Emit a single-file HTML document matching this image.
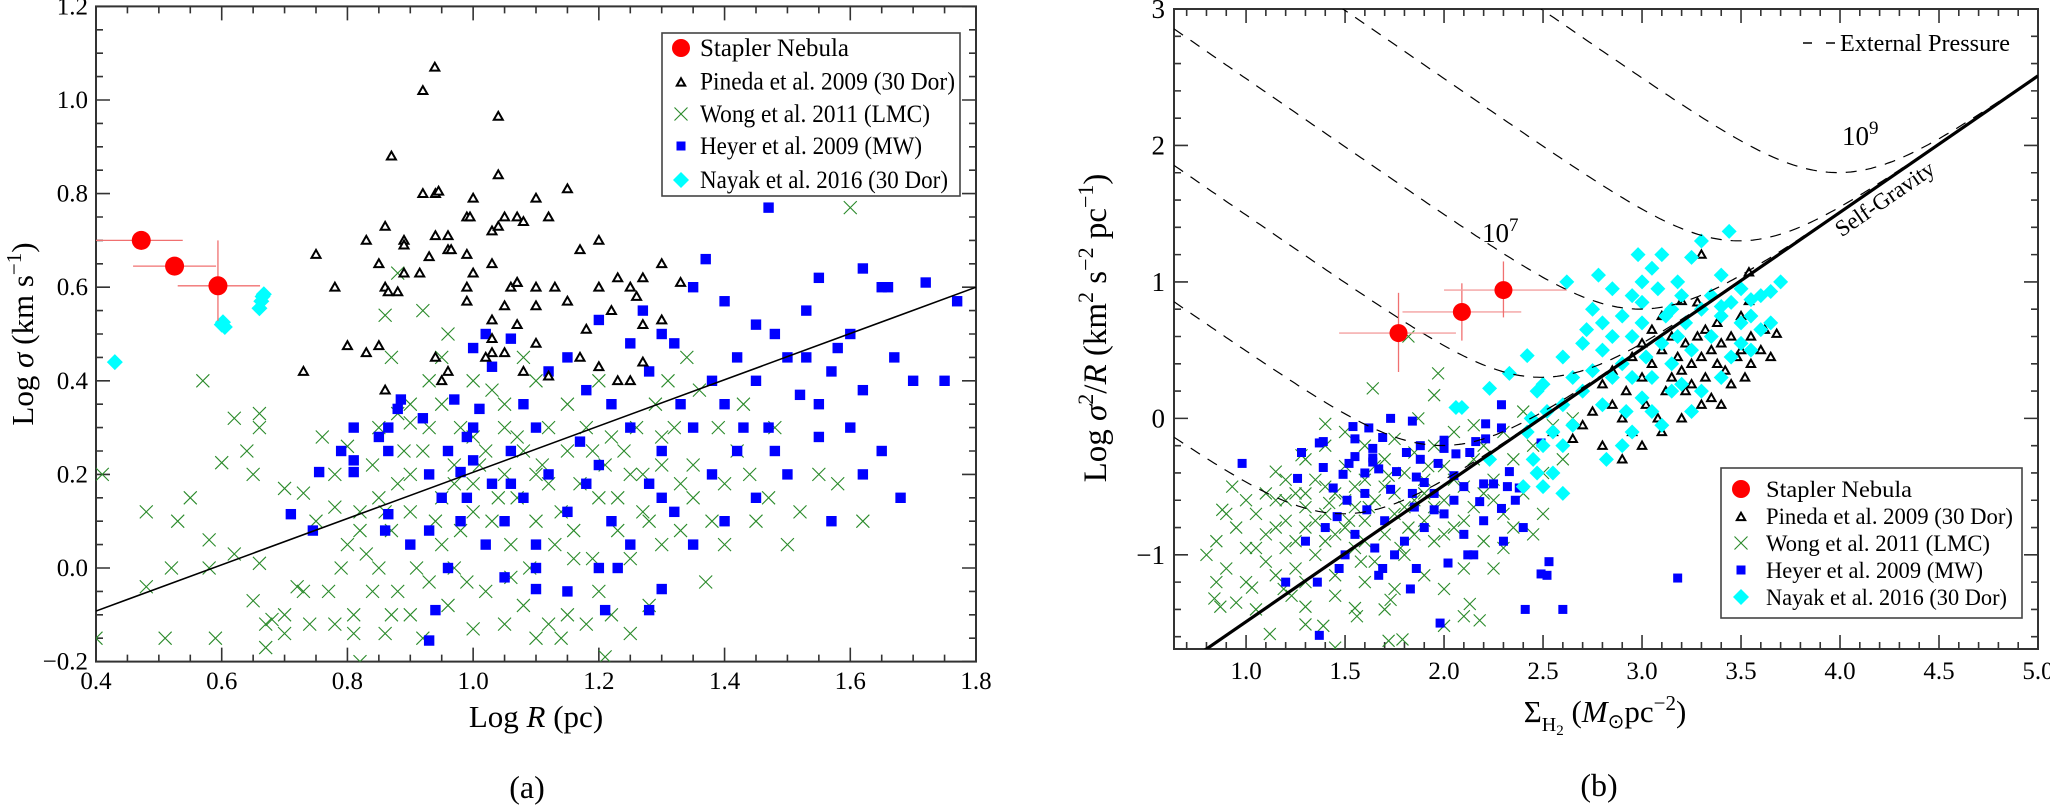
<!DOCTYPE html>
<html><head><meta charset="utf-8"><title>Stapler Nebula scaling relations</title>
<style>
html,body{margin:0;padding:0;background:#fff;}
svg{display:block;font-family:"Liberation Serif",serif;}
svg text{font-family:"Liberation Serif",serif;}
</style></head>
<body>
<svg id="fig" width="2050" height="806" viewBox="0 0 2050 806" xmlns="http://www.w3.org/2000/svg" font-family="Liberation Serif, serif">
<defs>
<clipPath id="clipL"><rect x="96" y="6.4" width="880" height="655.2"/></clipPath>
<clipPath id="clipR"><rect x="1174" y="9" width="864" height="640"/></clipPath>
</defs>
<g id="panelA"></g>
<g id="panelB"></g>
</svg>
<script>
// ---------- Panel (a) data: Log R (pc) vs Log sigma ----------
const staplerLeft=[[0.472,0.70],[0.525,0.645],[0.594,0.603]];
const staplerLeftXerr=[[0.40,0.538],[0.459,0.591],[0.53,0.661]];
const staplerLeftYerr=[[0.68,0.72],[0.635,0.655],[0.528,0.70]];
const nayakLeft=[[0.43,0.44],[0.6,0.52],[0.605,0.515],[0.602,0.525],[0.66,0.555],[0.663,0.57],[0.665,0.58],[0.667,0.585]];
const pinedaLeft=[[0.939,1.07],[0.92,1.02],[1.04,0.965],[0.87,0.88],[1.04,0.84],[0.92,0.80],[0.94,0.80],[0.945,0.805],[1.0,0.79],[0.99,0.75],[0.995,0.75],[1.07,0.75],[1.03,0.72],[1.04,0.73],[0.86,0.73],[0.83,0.70],[0.89,0.70],[0.89,0.69],[0.96,0.71],[0.94,0.71],[0.75,0.67],[0.85,0.65],[0.93,0.665],[0.96,0.68],[0.965,0.68],[0.99,0.67],[1.03,0.65],[0.89,0.63],[0.915,0.63],[1.0,0.63],[0.78,0.60],[0.86,0.60],[0.865,0.59],[0.88,0.59],[0.99,0.60],[1.06,0.60],[1.07,0.61],[0.99,0.57],[1.03,0.53],[1.03,0.49],[1.03,0.46],[1.02,0.45],[0.8,0.475],[0.83,0.46],[0.85,0.475],[0.94,0.45],[0.73,0.42],[0.96,0.42],[0.95,0.40],[0.86,0.38],[1.1,0.79],[1.15,0.81],[1.08,0.74],[1.12,0.75],[1.05,0.75],[1.17,0.68],[1.2,0.7],[1.07,0.61],[1.1,0.6],[1.13,0.6],[1.1,0.56],[1.15,0.57],[1.07,0.52],[1.18,0.51],[1.25,0.6],[1.27,0.62],[1.3,0.65],[1.33,0.61],[1.26,0.58],[1.22,0.55],[1.27,0.52],[1.3,0.53],[1.1,0.48],[1.05,0.46],[1.17,0.45],[1.2,0.43],[1.27,0.44],[1.25,0.4],[1.23,0.4],[1.08,0.42],[1.12,0.41],[1.05,0.56],[1.23,0.62],[1.2,0.6]];
const heyerLeft=[[0.755,0.205],[0.79,0.25],[0.81,0.30],[0.81,0.23],[0.81,0.205],[0.85,0.28],[0.865,0.30],[0.865,0.25],[0.88,0.34],[0.885,0.36],[0.92,0.32],[0.97,0.36],[1.0,0.47],[1.0,0.30],[0.99,0.28],[0.96,0.25],[1.0,0.23],[0.98,0.205],[0.99,0.15],[1.02,0.50],[1.03,0.43],[1.06,0.49],[1.01,0.34],[1.06,0.25],[1.03,0.18],[1.06,0.18],[0.71,0.115],[0.745,0.08],[0.865,0.115],[0.86,0.08],[0.93,0.08],[0.96,0.0],[1.1,0.0],[1.2,0.0],[1.23,0.0],[1.1,-0.045],[1.3,-0.045],[0.94,-0.09],[1.21,-0.09],[1.28,-0.09],[0.93,-0.155],[1.05,0.1],[1.08,0.15],[1.1,0.05],[1.12,0.2],[1.15,0.12],[1.17,0.27],[1.2,0.22],[1.22,0.1],[1.25,0.3],[1.28,0.18],[1.3,0.25],[1.32,0.12],[1.35,0.3],[1.38,0.2],[1.4,0.35],[1.42,0.25],[1.45,0.4],[1.47,0.3],[1.5,0.45],[1.52,0.37],[1.55,0.28],[1.57,0.42],[1.6,0.5],[1.62,0.38],[1.65,0.6],[1.66,0.6],[1.67,0.45],[1.7,0.4],[1.72,0.61],[1.75,0.4],[1.77,0.57],[1.47,0.77],[1.37,0.66],[1.4,0.57],[1.45,0.52],[1.35,0.6],[1.3,0.5],[1.27,0.55],[1.32,0.48],[1.25,0.48],[1.22,0.35],[1.18,0.38],[1.12,0.42],[1.08,0.35],[1.15,0.45],[1.2,0.53],[1.42,0.45],[1.48,0.5],[1.53,0.55],[1.58,0.47],[1.62,0.64],[1.55,0.62],[1.5,0.2],[1.45,0.15],[1.55,0.35],[1.6,0.3],[1.65,0.25],[1.68,0.15],[1.62,0.2],[1.4,0.1],[1.35,0.05],[1.25,0.05],[1.15,-0.05],[1.05,-0.02],[1.3,0.15],[1.57,0.1],[1.48,0.25],[1.38,0.4],[1.33,0.35],[1.1,0.3],[1.18,0.18],[0.95,0.15],[0.98,0.1],[1.02,0.05],[0.9,0.05],[0.93,0.2],[1.28,0.42],[1.43,0.3],[1.53,0.45]];
const wongLeft=[[0.41,0.2],[0.48,0.12],[0.53,0.1],[0.57,0.4],[0.62,0.32],[0.55,0.15],[0.58,0.06],[0.6,0.225],[0.64,0.25],[0.65,0.2],[0.66,0.33],[0.66,0.3],[0.7,0.17],[0.73,0.16],[0.62,0.03],[0.66,0.01],[0.48,-0.04],[0.52,0.0],[0.58,0.0],[0.4,-0.15],[0.51,-0.15],[0.59,-0.15],[0.65,-0.07],[0.67,-0.12],[0.68,-0.11],[0.7,-0.1],[0.67,-0.17],[0.7,-0.14],[0.74,-0.12],[0.72,-0.04],[0.73,-0.05],[0.77,-0.05],[0.78,-0.12],[0.81,-0.1],[0.81,-0.14],[0.82,-0.2],[0.75,0.1],[0.78,0.13],[0.8,0.05],[0.82,0.12],[0.76,0.28],[0.78,0.2],[0.8,0.26],[0.84,0.22],[0.85,0.15],[0.87,0.08],[0.88,0.18],[0.9,0.12],[0.92,0.25],[0.85,0.3],[0.88,0.33],[0.9,0.35],[0.87,0.45],[0.86,0.54],[0.88,0.63],[0.9,0.31],[0.93,0.4],[0.96,0.5],[0.95,0.35],[0.98,0.3],[1.0,0.4],[0.97,0.22],[1.0,0.18],[1.02,0.25],[1.05,0.3],[1.03,0.38],[1.05,0.2],[1.07,0.15],[1.08,0.25],[1.1,0.1],[1.12,0.18],[1.15,0.25],[1.18,0.3],[1.2,0.15],[1.22,0.28],[1.25,0.2],[1.28,0.1],[1.3,0.22],[1.32,0.3],[1.35,0.15],[1.37,-0.03],[1.4,0.05],[1.45,0.1],[1.5,0.05],[1.55,0.2],[1.6,0.77],[1.25,0.02],[1.2,-0.05],[1.15,-0.1],[1.1,-0.15],[1.05,-0.12],[1.0,-0.13],[0.96,-0.08],[0.93,-0.03],[0.9,-0.1],[0.88,-0.05],[0.86,-0.14],[0.92,-0.15],[0.97,0.0],[1.02,-0.05],[1.08,-0.08],[1.12,-0.12],[1.14,-0.15],[1.18,-0.12],[1.22,-0.1],[1.25,-0.14],[1.21,-0.19],[1.28,-0.08],[0.85,0.0],[0.83,0.03],[0.95,0.05],[0.98,0.08],[1.03,0.1],[1.06,0.05],[1.09,0.0],[1.13,0.05],[1.16,0.08],[1.19,0.02],[1.23,0.08],[1.27,0.12],[1.3,0.05],[1.33,0.08],[0.9,0.2],[0.95,0.15],[1.0,0.12],[1.04,0.15],[1.1,0.2],[1.14,0.12],[1.17,0.18],[1.21,0.22],[1.24,0.25],[1.26,0.3],[1.29,0.35],[1.31,0.4],[1.34,0.45],[1.36,0.38],[1.39,0.3],[1.42,0.25],[1.44,0.2],[1.47,0.15],[1.52,0.12],[1.58,0.18],[1.62,0.1],[1.3,0.28],[1.35,0.22],[1.4,0.18],[1.0,0.28],[1.05,0.35],[1.1,0.4],[1.15,0.35],[1.2,0.4],[0.95,0.45],[0.92,0.55],[1.08,0.45],[1.12,0.3],[1.16,0.02],[1.06,-0.02],[0.99,-0.03],[0.94,0.1],[0.91,0.0],[0.87,-0.1],[0.84,-0.05],[0.79,0.0],[0.82,0.08],[0.86,0.12],[0.89,0.25],[0.93,0.3],[0.97,0.18],[1.01,0.22],[1.07,0.28],[1.11,0.22],[1.19,0.25],[1.23,0.15],[1.27,0.2],[1.33,0.18],[1.38,0.1],[1.43,0.35],[1.48,0.3]];
const fitLeft=[[0.4,-0.092],[1.8,0.6]];
const xTicksLeft=["0.4","0.6","0.8","1.0","1.2","1.4","1.6","1.8"];
const yTicksLeft=["−0.2","0.0","0.2","0.4","0.6","0.8","1.0","1.2"];

// ---------- Panel (b) data: Sigma_H2 vs Log sigma^2/R ----------
const staplerRight=[[1.77,0.625],[2.09,0.78],[2.30,0.94]];
const staplerRightXerr=[[1.47,2.06],[1.79,2.39],[2.0,2.62]];
const staplerRightYerr=[[0.34,0.92],[0.57,0.99],[0.74,1.15]];
const pinedaRight=[[2.55,-0.1],[2.65,-0.15],[2.7,-0.05],[2.75,0.05],[2.8,-0.2],[2.85,0.1],[2.9,0.0],[2.92,0.2],[2.95,-0.1],[3.0,0.3],[3.02,0.1],[3.05,0.4],[3.08,0.0],[3.1,0.5],[3.12,0.2],[3.15,0.3],[3.18,0.45],[3.2,0.35],[3.22,0.55],[3.25,0.4],[3.28,0.6],[3.3,0.45],[3.32,0.3],[3.35,0.5],[3.38,0.4],[3.4,0.55],[3.42,0.35],[3.45,0.6],[3.48,0.45],[3.5,0.5],[3.52,0.3],[3.55,0.6],[3.6,0.5],[3.62,0.65],[3.65,0.45],[3.68,0.62],[3.3,0.1],[3.2,0.0],[3.1,-0.1],[3.0,-0.2],[2.9,-0.3],[3.28,0.85],[3.1,0.75],[3.22,0.2],[3.35,0.15],[3.4,0.1],[3.0,0.55],[2.95,0.45],[3.05,0.65],[3.15,0.6],[3.45,0.25],[3.55,0.4],[2.85,0.35],[2.8,0.25],[3.25,0.25],[3.38,0.7],[3.5,0.75],[3.32,0.65],[3.3,1.2],[3.54,1.07],[3.2,0.86],[3.54,0.86]];
const nayakRight=[[2.06,0.08],[2.09,0.08],[2.23,0.22],[2.33,0.33],[2.42,0.46],[2.47,0.2],[2.44,0.0],[2.42,-0.1],[2.23,-0.3],[2.47,-0.4],[2.6,0.45],[2.5,0.25],[2.52,0.05],[2.6,0.1],[2.55,-0.1],[2.45,-0.3],[2.5,-0.2],[2.65,-0.05],[2.7,0.2],[2.62,1.0],[2.75,0.8],[2.8,0.5],[2.85,0.6],[2.9,0.75],[2.95,0.9],[3.0,1.0],[3.05,1.1],[3.1,1.2],[3.15,0.8],[3.2,0.9],[3.3,1.3],[3.44,1.37],[3.25,1.18],[3.4,1.05],[3.5,0.95],[3.55,0.87],[3.65,0.93],[3.4,0.82],[3.6,0.9],[3.7,1.0],[2.7,0.55],[2.75,0.35],[2.8,0.1],[2.85,0.3],[2.9,0.4],[2.95,0.6],[3.0,0.7],[3.02,0.45],[3.05,0.3],[3.1,0.55],[3.12,0.75],[3.15,0.4],[3.18,0.6],[3.2,0.25],[3.22,0.7],[3.25,0.5],[3.3,0.8],[3.35,0.6],[3.4,0.75],[3.45,0.85],[3.5,0.7],[3.55,0.75],[3.6,0.65],[3.65,0.7],[3.55,0.5],[3.4,0.3],[3.3,0.2],[3.25,0.05],[3.1,-0.05],[3.0,0.15],[2.95,-0.1],[2.9,-0.2],[2.82,-0.3],[3.15,0.2],[3.05,0.05],[2.8,0.7],[2.72,0.65],[2.65,0.3],[2.6,-0.2],[2.55,-0.4],[2.4,-0.5],[2.5,-0.5],[2.6,-0.55],[2.95,0.3],[3.08,0.95],[2.92,0.05],[3.0,0.85],[3.35,0.9],[3.45,0.45],[3.5,0.55],[2.85,0.95],[3.18,1.0],[2.78,1.05],[2.98,1.2]];
const heyerRight=[[2.29,0.10],[2.21,-0.04],[1.84,-0.02],[1.73,0.0],[1.54,-0.06],[1.62,-0.07],[2.29,-0.07],[2.21,-0.15],[1.69,-0.14],[1.55,-0.15],[1.37,-0.18],[1.39,-0.17],[2.0,-0.16],[2.16,-0.17],[2.49,-0.18],[1.88,-0.2],[1.64,-0.22],[2.0,-0.22],[1.28,-0.25],[1.55,-0.28],[1.64,-0.29],[1.81,-0.25],[1.88,-0.3],[2.06,-0.26],[2.13,-0.25],[0.98,-0.33],[1.52,-0.33],[1.97,-0.33],[1.39,-0.36],[1.64,-0.32],[1.49,-0.41],[1.60,-0.4],[1.76,-0.39],[2.33,-0.39],[1.67,-0.37],[1.26,-0.44],[1.86,-0.43],[2.05,-0.42],[2.1,-0.5],[2.2,-0.48],[2.25,-0.48],[2.32,-0.5],[2.38,-0.51],[1.9,-0.47],[1.44,-0.51],[1.73,-0.52],[1.84,-0.55],[2.05,-0.6],[2.18,-0.61],[2.29,-0.66],[2.36,-0.6],[1.51,-0.6],[1.61,-0.67],[1.46,-0.72],[1.95,-0.67],[1.20,-1.2],[1.36,-1.2],[1.37,-1.59],[1.47,-1.1],[1.67,-1.15],[1.69,-1.1],[1.83,-1.25],[1.86,-1.1],[1.98,-1.5],[2.02,-1.06],[2.12,-1.0],[2.41,-1.4],[2.49,-1.14],[2.52,-1.15],[2.53,-1.05],[2.6,-1.4],[3.18,-1.17],[1.4,-0.8],[1.55,-0.85],[1.7,-0.75],[1.8,-0.9],[1.9,-0.8],[2.0,-0.7],[2.1,-0.85],[2.2,-0.75],[2.3,-0.9],[1.65,-0.95],[1.75,-1.0],[1.5,-1.0],[1.3,-0.9],[2.4,-0.8],[2.15,-1.0],[1.85,-0.65],[1.6,-0.55],[1.95,-0.55]];
const wongRight=[[1.4,-0.04],[1.64,0.22],[1.95,0.17],[1.97,0.33],[1.87,0.0],[1.15,-0.39],[0.93,-0.5],[0.88,-0.67],[1.28,-0.27],[1.82,0.6],[0.84,-1.32],[0.87,-1.38],[1.12,-1.58],[1.3,-1.51],[1.39,-1.52],[1.45,-1.68],[1.56,-1.45],[1.7,-1.4],[1.72,-1.63],[1.79,-1.62],[2.0,-1.52],[2.1,-1.45],[2.18,-1.48],[2.13,-1.36],[1.03,-1.24],[1.19,-1.25],[1.23,-1.3],[1.3,-1.38],[1.55,-1.39],[1.73,-1.33],[0.8,-1.0],[0.85,-0.9],[0.9,-1.1],[0.95,-0.8],[1.0,-1.2],[1.0,-0.95],[1.05,-0.7],[1.1,-1.05],[1.1,-0.85],[1.15,-1.15],[1.15,-0.6],[1.2,-0.95],[1.2,-0.75],[1.25,-1.1],[1.25,-0.55],[1.3,-0.8],[1.3,-0.65],[1.35,-1.0],[1.35,-0.45],[1.4,-0.7],[1.4,-0.9],[1.45,-0.55],[1.45,-1.15],[1.5,-0.8],[1.5,-0.35],[1.55,-0.65],[1.55,-0.95],[1.6,-0.45],[1.6,-0.75],[1.65,-0.6],[1.65,-1.05],[1.7,-0.3],[1.7,-0.85],[1.75,-0.55],[1.75,-0.7],[1.8,-0.4],[1.8,-1.0],[1.85,-0.6],[1.85,-0.25],[1.9,-0.75],[1.9,-0.45],[1.95,-0.9],[1.95,-0.2],[2.0,-0.6],[2.0,-0.35],[2.05,-0.8],[2.05,-0.1],[2.1,-0.5],[2.1,-1.1],[2.15,-0.3],[2.15,-0.65],[2.2,-0.2],[2.2,-0.9],[2.25,-0.45],[2.3,-0.1],[2.3,-0.7],[2.35,-0.3],[2.4,-0.55],[2.4,0.05],[2.45,-0.2],[2.5,-0.4],[2.55,-0.05],[2.6,-0.3],[2.65,0.0],[1.3,-0.3],[1.4,-0.2],[1.5,-0.1],[1.6,-0.2],[1.2,-0.45],[1.1,-0.55],[1.0,-0.6],[0.9,-0.7],[0.85,-1.2],[0.95,-1.35],[1.05,-1.4],[1.3,-1.2],[1.45,-1.3],[1.6,-1.2],[1.75,-1.25],[1.9,-1.15],[2.0,-1.25],[2.25,-1.1],[2.3,-0.95],[2.45,-0.85],[2.5,-0.7],[1.55,-0.5],[1.65,-0.35],[1.75,-0.15],[1.85,-0.85],[1.95,-0.65],[2.05,-0.45],[2.15,-0.05],[2.25,-0.6],[2.35,-0.8],[1.35,-0.75],[1.45,-0.85],[1.25,-0.9],[1.15,-0.8],[1.05,-0.95],[1.7,-0.5],[1.8,-0.65],[1.9,-0.55],[2.0,-0.85],[1.6,-0.9],[1.5,-0.6],[1.4,-0.5],[1.3,-0.55],[1.2,-0.6],[2.1,-0.75],[2.2,-0.55],[1.62,-0.65],[1.72,-0.42],[1.82,-0.8],[1.92,-0.35],[1.52,-0.75],[1.42,-0.62],[1.78,-0.95],[1.58,-1.05]];
const selfGravity=[2.49];               // offset: y = x - offset
const pressureMinima=[3.99,3.49,2.99,2.49,1.99,1.49]; // Sigma at each curve's minimum
const xTicksRight=["1.0","1.5","2.0","2.5","3.0","3.5","4.0","4.5","5.0"];
const yTicksRight=["−1","0","1","2","3"];

const NS="http://www.w3.org/2000/svg";
const L={x0:96,x1:976,y0:6.4,y1:661.6,xmin:0.4,xmax:1.8,ymin:-0.2,ymax:1.2};
const R={x0:1174,x1:2038,y0:9,y1:649,xmin:0.636,xmax:5.0,ymin:-1.69,ymax:3};
function sx(P,v){return P.x0+(v-P.xmin)/(P.xmax-P.xmin)*(P.x1-P.x0);}
function sy(P,v){return P.y1-(v-P.ymin)/(P.ymax-P.ymin)*(P.y1-P.y0);}
function mk(tag,attrs,parent){const e=document.createElementNS(NS,tag);for(const k in attrs)e.setAttribute(k,attrs[k]);parent.appendChild(e);return e;}
function txt(s,attrs,parent){const e=mk('text',attrs,parent);e.textContent=s;return e;}

function cross(g,x,y,h,col){return mk('path',{d:`M${x-h},${y-h}L${x+h},${y+h}M${x-h},${y+h}L${x+h},${y-h}`,stroke:col,'stroke-width':1.1,fill:'none'},g);}
function square(g,x,y,h){return mk('rect',{x:x-h,y:y-h,width:2*h,height:2*h,fill:'#0000ff'},g);}
function tri(g,x,y,h){return mk('polygon',{points:`${x},${y-h} ${x-h},${y+h*0.75} ${x+h},${y+h*0.75}`,fill:'#fff',stroke:'#000','stroke-width':2},g);}
function diamond(g,x,y,h){return mk('polygon',{points:`${x},${y-h} ${x+h},${y} ${x},${y+h} ${x-h},${y}`,fill:'#00ffff'},g);}

function frame(g,P,xmaj,xmin_,ymaj,ymin_,name){
  const f=mk('rect',{x:P.x0,y:P.y0,width:P.x1-P.x0,height:P.y1-P.y0,fill:'none',stroke:'#333','stroke-width':2},g);
  
  
  let d='';const eps=1e-6;
  const xs=Math.ceil(P.xmin/xmin_-eps);
  for(let i=xs;i*xmin_<=P.xmax+eps;i++){const v=i*xmin_;const x=sx(P,v);const isM=Math.abs(v/xmaj-Math.round(v/xmaj))<1e-4;const len=isM?14:7;d+=`M${x},${P.y1}v${-len}M${x},${P.y0}v${len}`;}
  const ys=Math.ceil(P.ymin/ymin_-eps);
  for(let i=ys;i*ymin_<=P.ymax+eps;i++){const v=i*ymin_;const y=sy(P,v);const isM=Math.abs(v/ymaj-Math.round(v/ymaj))<1e-4;const len=isM?14:7;d+=`M${P.x0},${y}h${len}M${P.x1},${y}h${-len}`;}
  const t=mk('path',{d:d,stroke:'#333','stroke-width':1.6,fill:'none'},g);
  
  
}

// ===== Panel A =====
const A=document.getElementById('panelA');
frame(A,L,0.2,0.05,0.2,0.05,'panel-a');
const gAx=mk('g',{'font-size':25,fill:'#000'},A);


xTicksLeft.forEach(s=>{const t=txt(s,{x:sx(L,parseFloat(s)),y:689,'text-anchor':'middle'},gAx);});
const gAy=mk('g',{'font-size':25,fill:'#000'},A);


yTicksLeft.forEach(s=>{const t=txt(s,{x:88,y:sy(L,parseFloat(s.replace('−','-')))+8,'text-anchor':'end'},gAy);});
const aPts=mk('g',{'clip-path':'url(#clipL)'},A);


const gW=mk('g',{},aPts);
wongLeft.forEach(p=>{cross(gW,sx(L,p[0]),sy(L,p[1]),6.5,'#2a8a2a');});
const gH=mk('g',{},aPts);
heyerLeft.forEach(p=>{square(gH,sx(L,p[0]),sy(L,p[1]),5.2);});
const gP=mk('g',{},aPts);
pinedaLeft.forEach(p=>{tri(gP,sx(L,p[0]),sy(L,p[1]),4.5);});
const fl=mk('line',{x1:sx(L,fitLeft[0][0]),y1:sy(L,fitLeft[0][1]),x2:sx(L,fitLeft[1][0]),y2:sy(L,fitLeft[1][1]),stroke:'#000','stroke-width':1.6},aPts);


const gN=mk('g',{},aPts);
nayakLeft.forEach(p=>{diamond(gN,sx(L,p[0]),sy(L,p[1]),8);});
const gS=mk('g',{},aPts);
staplerLeft.forEach((p,i)=>{
  const x=sx(L,p[0]),y=sy(L,p[1]);
  mk('line',{x1:sx(L,staplerLeftXerr[i][0]),x2:sx(L,staplerLeftXerr[i][1]),y1:y,y2:y,stroke:'#f07070','stroke-width':1.3},gS);
  mk('line',{x1:x,x2:x,y1:sy(L,staplerLeftYerr[i][0]),y2:sy(L,staplerLeftYerr[i][1]),stroke:'#f07070','stroke-width':1.3},gS);
  const c=mk('circle',{cx:x,cy:y,r:9.5,fill:'#ff0000'},gS);
  
  
});
const ayt=mk('text',{transform:'translate(33,334) rotate(-90)','text-anchor':'middle','font-size':31},A);
ayt.innerHTML='Log <tspan font-style="italic">σ</tspan> (km s<tspan dy="-12" font-size="21">−1</tspan><tspan dy="12">)</tspan>';


const axt=mk('text',{x:536,y:727,'text-anchor':'middle','font-size':31},A);
axt.innerHTML='Log <tspan font-style="italic">R</tspan> (pc)';


const acap=txt('(a)',{x:527,y:798,'text-anchor':'middle','font-size':32},A);



function legend(parent,box,rows,mx,tx,widths,fs,name){
  const g=mk('g',{},parent);
  
  
  mk('rect',{x:box[0],y:box[1],width:box[2]-box[0],height:box[3]-box[1],fill:'#fff',stroke:'#444','stroke-width':1.6},g);
  const labels=['Stapler Nebula','Pineda et al. 2009 (30 Dor)','Wong et al. 2011 (LMC)','Heyer et al. 2009 (MW)','Nayak et al. 2016 (30 Dor)'];
  labels.forEach((s,i)=>{
    const y=rows[i];
    const e=mk('g',{},g);
    
    
    if(i==0)mk('circle',{cx:mx,cy:y,r:9,fill:'#ff0000'},e);
    if(i==1)tri(e,mx,y+1,4.2);
    if(i==2)cross(e,mx,y,6.5,'#2a8a2a');
    if(i==3)square(e,mx,y,4.5);
    if(i==4)diamond(e,mx,y,8);
    txt(s,{x:tx,y:y+8,'font-size':fs,textLength:widths[i],lengthAdjust:'spacingAndGlyphs'},e);
  });
}
legend(A,[662,33,960,196],[48,81.5,114,146,180],681,700,[149,255,230,222,248],25,'panel-a-legend');

// ===== Panel B =====
const B=document.getElementById('panelB');
frame(B,R,0.5,0.1,1,0.2,'panel-b');
const gBx=mk('g',{'font-size':25},B);


xTicksRight.forEach(s=>{const t=txt(s,{x:sx(R,parseFloat(s)),y:679,'text-anchor':'middle'},gBx);});
const gBy=mk('g',{'font-size':27},B);


yTicksRight.forEach(s=>{const t=txt(s,{x:1165,y:sy(R,parseFloat(s.replace('−','-')))+9,'text-anchor':'end'},gBy);});
const bPts=mk('g',{'clip-path':'url(#clipR)'},B);


const gW2=mk('g',{},bPts);
wongRight.forEach(p=>{cross(gW2,sx(R,p[0]),sy(R,p[1]),6,'#2a8a2a');});
const gH2=mk('g',{},bPts);
heyerRight.forEach(p=>{square(gH2,sx(R,p[0]),sy(R,p[1]),4.5);});
const gP2=mk('g',{},bPts);
pinedaRight.forEach(p=>{tri(gP2,sx(R,p[0]),sy(R,p[1]),4.2);});
const gN2=mk('g',{},bPts);
nayakRight.forEach(p=>{diamond(gN2,sx(R,p[0]),sy(R,p[1]),7.5);});
const gC=mk('g',{},bPts);
const off=selfGravity[0];
pressureMinima.forEach(m=>{
  const c=2*m-off;let d='';
  for(let i=0;i<=300;i++){const X=R.xmin+(R.xmax-R.xmin)*i/300;const Y=Math.log10(Math.pow(10,X-off)+Math.pow(10,c-X));d+=(i?'L':'M')+sx(R,X).toFixed(1)+','+sy(R,Math.min(Y,4)).toFixed(1);}
  const p=mk('path',{d:d,fill:'none',stroke:'#000','stroke-width':1.2,'stroke-dasharray':'11,9'},gC);
  
  
});
const sg=mk('line',{x1:sx(R,R.xmin),y1:sy(R,R.xmin-off),x2:sx(R,R.xmax),y2:sy(R,R.xmax-off),stroke:'#000','stroke-width':3.2},bPts);


const gS2=mk('g',{},bPts);
staplerRight.forEach((p,i)=>{
  const x=sx(R,p[0]),y=sy(R,p[1]);
  mk('line',{x1:sx(R,staplerRightXerr[i][0]),x2:sx(R,staplerRightXerr[i][1]),y1:y,y2:y,stroke:'#f4a0a0','stroke-width':1.4},gS2);
  mk('line',{x1:x,x2:x,y1:sy(R,staplerRightYerr[i][0]),y2:sy(R,staplerRightYerr[i][1]),stroke:'#f07070','stroke-width':1.3},gS2);
  const c=mk('circle',{cx:x,cy:y,r:9,fill:'#ff0000'},gS2);
  
  
});
const l9=mk('text',{x:1842,y:145,'font-size':27},B);
l9.innerHTML='10<tspan dy="-11" font-size="19">9</tspan>';


const l7=mk('text',{x:1482,y:242,'font-size':27},B);
l7.innerHTML='10<tspan dy="-11" font-size="19">7</tspan>';


const sgl=txt('Self-Gravity',{transform:'translate(1889,205) rotate(-34.5)','text-anchor':'middle','font-size':23},B);


const epg=mk('g',{},B);


mk('path',{d:'M1803,43h9M1826,43h9',stroke:'#000','stroke-width':1.4},epg);
txt('External Pressure',{x:1840,y:51,'font-size':24,textLength:170,lengthAdjust:'spacingAndGlyphs'},epg);
legend(B,[1721,468,2022,618],[489,516,543,570,597],1741,1766,[146,247,224,217,241],23,'panel-b-legend');
const byt=mk('text',{transform:'translate(1106,328) rotate(-90)','text-anchor':'middle','font-size':33},B);
byt.innerHTML='Log <tspan font-style="italic">σ</tspan><tspan dy="-13" font-size="22">2</tspan><tspan dy="13">/</tspan><tspan font-style="italic">R</tspan> (km<tspan dy="-13" font-size="22">2</tspan><tspan dy="13"> s</tspan><tspan dy="-13" font-size="22">−2</tspan><tspan dy="13"> pc</tspan><tspan dy="-13" font-size="22">−1</tspan><tspan dy="13">)</tspan>';


const bxt=mk('text',{x:1605,y:722,'text-anchor':'middle','font-size':31},B);
bxt.innerHTML='Σ<tspan dy="9" font-size="20">H</tspan><tspan font-size="15" dy="4">2</tspan><tspan dy="-13"> (</tspan><tspan font-style="italic">M</tspan><tspan font-size="20" dy="6">⊙</tspan><tspan dy="-6">pc</tspan><tspan dy="-12" font-size="21">−2</tspan><tspan dy="12">)</tspan>';


const bcap=txt('(b)',{x:1599,y:796,'text-anchor':'middle','font-size':32},B);


</script>
</body></html>
